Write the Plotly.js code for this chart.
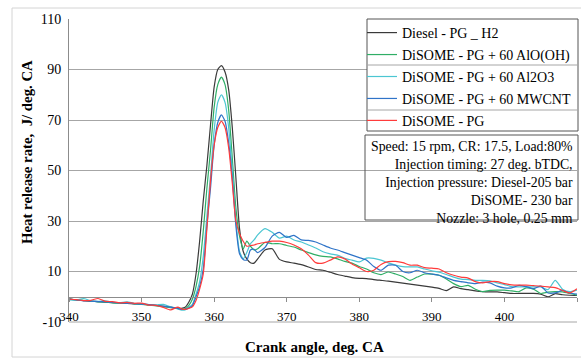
<!DOCTYPE html>
<html>
<head>
<meta charset="utf-8">
<script src="https://cdn.plot.ly/plotly-3.0.1.min.js"></script>
<style>html,body{margin:0;padding:0;background:#fff;}#chart{width:581px;height:358px;}</style>
</head>
<body>
<div id="chart"></div>
<script>
// Crank angle (deg. CA)
const crankAngle = [340,341,342,343,344,345,346,347,348,349,350,351,352,353,354,355,
  355.5,356,356.5,357,357.5,358,358.5,359,359.5,360,360.5,361,361.5,362,362.5,363,363.5,364,364.5,365,365.5,366,
  367,368,369,370,371,372,373,374,375,376,377,378,379,380,381,382,383,384,385,386,387,388,389,390,
  391,392,393,394,395,396,397,398,399,400,401,402,403,404,405,406,407,408,409,410];

const seriesNames = ["Diesel - PG _ H2","DiSOME - PG + 60 AlO(OH)","DiSOME - PG + 60 Al2O3","DiSOME - PG + 60 MWCNT","DiSOME - PG"];

const dieselPG_H2 = [-0.8,-1.2,-1.5,-1.8,-1.9,-2.1,-2.3,-2.5,-2.6,-2.8,-2.9,-3.2,-3.5,-3.8,-4.1,-4.4,
  -4.6,-4.2,-2.2,1,9,22,38,52,68,83,90,91.5,89,82,67,47,27,18,15,13.5,13.3,15,
  18.5,19,14.8,13.8,13.3,12.7,11.8,10.8,10.5,9.7,8.8,8.2,7.6,7.3,7.2,6.8,6.5,6.2,5.8,5.4,5,4.6,4.2,3.8,
  3.3,2.4,3.9,3.2,2.8,2.3,2,1.9,1.9,1.6,1.3,1.3,1.3,1.3,1,0,1.2,0.8,0.6,0.5];

const disomeAlOOH = [-1,-1.3,-1.4,-1.7,-2,-2.1,-2.4,-2.5,-2.5,-2.8,-3,-3.3,-3.5,-3.9,-4.3,-4.7,
  -5,-4.8,-3.5,-1,4,12,26,43,58,75,84,87,84,74,55,35,24,19,22,20,18.5,19,
  21.5,21,21,20.3,19.7,18.5,17.5,16.6,16,15.8,15,14,13.3,12,11,9.5,8.8,9.8,9,8,6.5,7.8,9,9,
  8.5,7,5.2,4,4.5,3,2,2.5,2.6,2.6,2.3,2,3.5,3,1.3,1.8,2,1.9,1.3,0.6];

const disomeAl2O3 = [-1.2,-1.3,-0.7,-1.6,-1.8,-1.6,-2.2,-2.3,-2,-2.6,-2.8,-3.1,-3.2,-3,-4,-4.8,
  -5.3,-5.2,-4.2,-3,1,6,16,32,48,66,77,80,77,67,50,30,18,15,17.5,21,22.5,24.5,
  27,25.5,23.2,24,22.5,21.7,20.5,19.3,17.8,17,16.5,15.2,14.5,13.8,15.3,15.2,14.5,13.4,12.5,11.9,11.8,11.8,11,10.3,
  9.7,8.8,7.8,7,6.8,6.5,6.5,6.3,5.5,4.8,4,3.9,3.9,3.9,3.9,2.8,6.5,3,2,2.6];

const disomeMWCNT = [-1,-1.2,-1.6,-1.7,-1.9,-2,-2.2,-2.4,-2.6,-2.7,-2.9,-3.1,-3.4,-3.7,-4.1,-4.6,
  -5,-5,-4.5,-3.5,0,4,11,28,43,60,69,72,69.5,61,47,28,17,14.8,14.5,18.5,18.8,17.5,
  19.5,24,25.5,23.5,24.3,22.5,22.3,21.7,20.5,19.3,18.5,17.5,16.5,15.5,14.5,12,10.5,12.5,12.5,10,9.5,10.5,9.5,9,
  8.5,7.5,6.5,6,5.5,5.2,5.8,5.5,4.2,3.5,3.5,4.5,4,3.2,4.2,1.5,1.5,2.5,1.5,1];

const disomePG = [-1,-1.1,-1.5,-1.4,-0.7,-1.8,-1.9,-2.4,-2.2,-2.6,-2.5,-3.3,-3.4,-4.2,-5.2,-4.1,
  -4.8,-5,-4.6,-4,-1.5,3,9,27,46,60,67,69.5,67,59,45,30,25,22,20,20.3,20.5,21,
  21.5,22,22,21.5,20.5,19,16.5,13.5,13.3,14.5,15.8,15,13,11.5,10,10.5,12.8,13.9,14,13.5,12.5,12.5,11.5,11.3,
  11,9.5,8.5,7.8,7.4,6,5.5,6,6,5.2,4.7,4.6,4.6,4.4,4.2,3.9,3.6,2.5,1.5,3.2];

const seriesValues = [dieselPG_H2, disomeAlOOH, disomeAl2O3, disomeMWCNT, disomePG];
const seriesColors = ["#3a3a3a","#2fae66","#4cc6d2","#2f74c8","#ff3b3b"];

const yTicks = [-10,10,30,50,70,90,110];
const xTicks = [340,350,360,370,380,390,400,410];

const infoLines = ["Speed: 15 rpm, CR: 17.5, Load:80%","Injection timing: 27 deg. bTDC,","Injection pressure: Diesel-205 bar","DiSOME- 230 bar","Nozzle: 3 hole, 0.25 mm"];

const serif = "Liberation Serif, Times New Roman, serif";

const traces = seriesNames.map((name, i) => ({
  x: crankAngle,
  y: seriesValues[i],
  type: "scatter",
  mode: "lines",
  name: name,
  legendgroup: "g" + i,
  line: {color: seriesColors[i], width: 1.2, shape: "spline", smoothing: 0.6}
}));

// pixel helpers for paper coordinates (plot area 69..577 x 19..322)
const L = 69, R = 577, T = 19, B = 322;
const px = p => (p - L) / (R - L);
const py = p => (B - p) / (B - T);

const layout = {
  width: 581, height: 358,
  margin: {l: L, r: 581 - R, t: T, b: 358 - B},
  paper_bgcolor: "#ffffff",
  plot_bgcolor: "#ffffff",
  showlegend: true,
  font: {family: serif, color: "#000"},
  xaxis: {
    range: [340, 410],
    tickvals: xTicks,
    ticktext: xTicks.map(String),
    anchor: "free",
    position: 10 / 120,
    showgrid: false,
    zeroline: false,
    showline: true,
    linecolor: "#8c8c8c",
    linewidth: 1,
    ticks: "outside",
    ticklen: 4,
    tickcolor: "#8c8c8c",
    ticklabelstandoff: 4,
    tickfont: {family: serif, size: 13, color: "#000"}
  },
  yaxis: {
    range: [-10, 110],
    tickvals: yTicks,
    ticktext: yTicks.map(String),
    showgrid: true,
    gridcolor: "#a6a6a6",
    gridwidth: 1,
    zeroline: false,
    showline: true,
    linecolor: "#8c8c8c",
    ticks: "",
    ticklabelstandoff: 4,
    tickfont: {family: serif, size: 14, color: "#000"}
  },
  legend: {
    x: px(362), y: py(17), xanchor: "left", yanchor: "top",
    bgcolor: "rgba(0,0,0,0)",
    borderwidth: 0,
    font: {family: serif, size: 14, color: "#000"},
    tracegroupgap: 0.75,
    itemwidth: 30
  },
  shapes: [
    {type: "rect", xref: "paper", yref: "paper", x0: px(12), x1: px(600), y0: py(357), y1: py(8),
     line: {color: "#d4d4d4", width: 1}, fillcolor: "rgba(0,0,0,0)", layer: "below"},
    {type: "line", xref: "paper", yref: "paper", x0: 0, x1: 1, y0: 0, y1: 0,
     line: {color: "#a6a6a6", width: 1}, layer: "below"},
    {type: "rect", xref: "paper", yref: "paper", x0: px(367), x1: px(578), y0: py(131), y1: py(19),
     line: {color: "#555555", width: 1}, fillcolor: "#ffffff", layer: "above"},
    {type: "line", xref: "paper", yref: "paper", x0: px(367), x1: px(578), y0: py(65), y1: py(65),
     line: {color: "#a6a6a6", width: 1}, layer: "above"},
    {type: "line", xref: "paper", yref: "paper", x0: px(367), x1: px(578), y0: py(110), y1: py(110),
     line: {color: "#a6a6a6", width: 1}, layer: "above"},
    {type: "rect", xref: "paper", yref: "paper", x0: px(365), x1: px(578), y0: py(220), y1: py(135),
     line: {color: "#555555", width: 1}, fillcolor: "rgba(0,0,0,0)", layer: "above"}
  ],
  annotations: [
    {text: infoLines.join("<br>"), xref: "paper", yref: "paper", x: px(575), y: py(137),
     xanchor: "right", yanchor: "top", align: "right", showarrow: false,
     font: {family: serif, size: 13.8, color: "#000"}},
    {text: "<b>Heat release rate,  J/ deg. CA</b>", xref: "paper", yref: "paper", x: px(27), y: py(152),
     xanchor: "center", yanchor: "middle", textangle: -90, showarrow: false,
     font: {family: serif, size: 14.8, color: "#000"}},
    {text: "<b>Crank angle, deg. CA</b>", xref: "paper", yref: "paper", x: px(314), y: py(347),
     xanchor: "center", yanchor: "middle", showarrow: false,
     font: {family: serif, size: 15, color: "#000"}}
  ]
};

Plotly.newPlot("chart", traces, layout, {displayModeBar: false, staticPlot: true});
</script>
</body>
</html>
